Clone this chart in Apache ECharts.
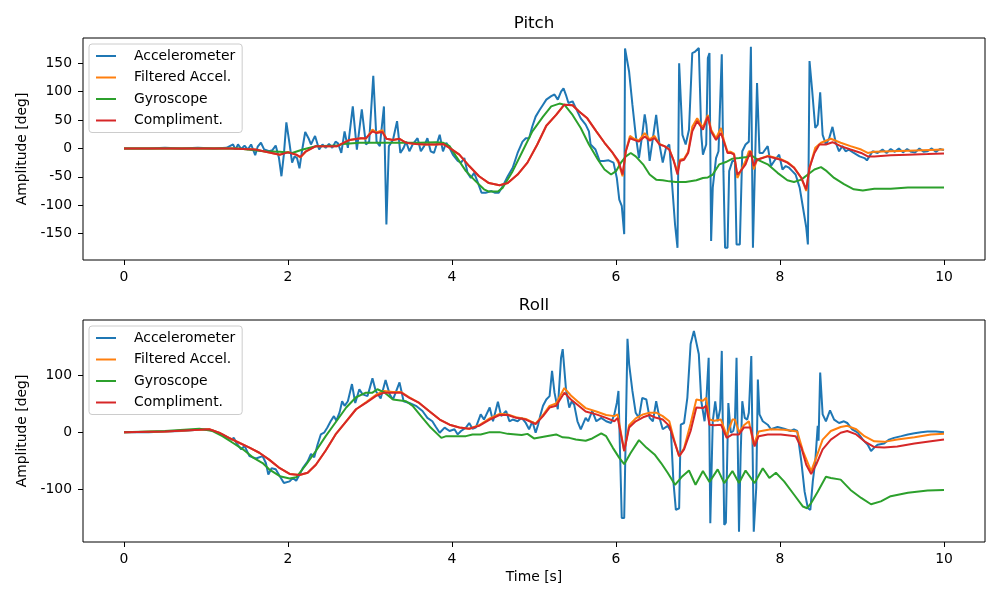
<!DOCTYPE html>
<html><head><meta charset="utf-8">
<script src="https://cdn.jsdelivr.net/npm/echarts@6/dist/echarts.min.js"></script>
<style>html,body{margin:0;padding:0;background:#fff}#c{width:1000px;height:600px}</style>
</head><body><div id="c"></div>
<script>
const seriesNames = ['Accelerometer', 'Filtered Accel.', 'Gyroscope', 'Compliment.'];
const titles = ['Pitch', 'Roll'];
const xTicks = [0, 2, 4, 6, 8, 10];
const pitchTicks = [-150, -100, -50, 0, 50, 100, 150];
const rollTicks = [-100, 0, 100];

// ---------- Pitch ----------
const pitchAccT = [0,0.3,0.5,0.7,0.9,1.1,1.25,1.33,1.36,1.39,1.43,1.47,1.51,1.55,1.60,1.63,1.67,1.71,1.77,1.81,1.85,1.89,1.92,1.95,1.98,2.02,2.05,2.08,2.11,2.14,2.17,2.21,2.25,2.28,2.33,2.38,2.42,2.46,2.50,2.54,2.58,2.61,2.65,2.69,2.73,2.79,2.84,2.90,2.95,2.99,3.04,3.08,3.12,3.17,3.20,3.23,3.28,3.33,3.37,3.41,3.44,3.48,3.52,3.58,3.62,3.66,3.70,3.74,3.78,3.85,3.89,3.93,3.97,4.01,4.07,4.11,4.15,4.19,4.23,4.27,4.31,4.36,4.41,4.48,4.52,4.57,4.62,4.68,4.74,4.80,4.86,4.90,4.94,4.98,5.02,5.07,5.11,5.15,5.21,5.25,5.29,5.33,5.36,5.39,5.42,5.47,5.51,5.57,5.63,5.67,5.69,5.75,5.80,5.85,5.91,5.97,6.01,6.04,6.07,6.10,6.11,6.16,6.20,6.24,6.28,6.32,6.35,6.37,6.41,6.45,6.49,6.53,6.57,6.61,6.65,6.69,6.72,6.75,6.77,6.81,6.85,6.89,6.93,6.96,7.01,7.04,7.06,7.10,7.12,7.14,7.16,7.18,7.22,7.25,7.29,7.31,7.33,7.36,7.38,7.42,7.45,7.47,7.51,7.54,7.58,7.62,7.645,7.67,7.69,7.72,7.75,7.79,7.85,7.89,7.93,7.99,8.03,8.07,8.11,8.15,8.19,8.24,8.28,8.32,8.34,8.36,8.39,8.43,8.46,8.49,8.52,8.56,8.60,8.64,8.68,8.72,8.76,8.80,8.84,8.90,8.97,9.03,9.06,9.09,9.13,9.19,9.25,9.30,9.35,9.40,9.45,9.50,9.55,9.60,9.65,9.70,9.75,9.80,9.85,9.90,9.95,10.0];
const pitchAccV = [0,0,1,0,1,0,1,7,-2,7,-1,5,-2,7,-12,3,10,-2,-5,-3,5,-17,-49,-10,46,7,-25,-14,-17,-35,-5,29,18,7,22,-2,7,1,8,1,12,9,-8,30,1,74,-2,69,7,12,128,12,4,74,-134,4,15,48,-8,1,12,-5,7,18,-5,4,18,-5,-8,24,-5,10,1,-11,-22,-25,-17,-43,-52,-43,-58,-78,-78,-75,-78,-78,-66,-49,-34,-8,12,18,18,39,56,68,77,86,92,95,86,100,106,94,80,83,71,53,42,30,7,-2,-22,-22,-21,-25,-52,-90,-101,-151,176,135,77,24,-17,24,60,42,-22,18,59,7,-25,1,7,-75,-134,-175,150,24,7,33,168,170,177,24,-11,7,159,168,-163,-69,-17,-5,166,-40,-175,-175,-40,-22,-22,-169,-169,-5,7,12,179,-175,-175,115,-8,-8,4,-31,-22,-11,-37,-31,-34,-40,-46,-69,-104,-139,-169,154,106,36,42,99,24,7,18,38,10,-5,4,-5,-2,-8,-14,-17,-21,-14,-5,-8,-2,-8,-1,-6,0,-7,-1,-6,-7,0,-6,-5,0,-6,-1,-3];

const pitchFiltT = [0,1.3,1.6,1.9,2.0,2.1,2.15,2.22,2.34,2.6,2.75,2.89,2.95,3.03,3.08,3.15,3.2,3.28,3.36,3.44,3.56,3.68,3.80,3.89,3.97,4.09,4.21,4.33,4.45,4.58,4.68,4.80,4.92,5.04,5.15,5.27,5.37,5.47,5.55,5.65,5.76,5.86,5.96,6.03,6.08,6.12,6.17,6.22,6.28,6.35,6.41,6.47,6.53,6.59,6.65,6.70,6.75,6.78,6.83,6.88,6.93,6.99,7.06,7.12,7.16,7.22,7.28,7.32,7.36,7.40,7.44,7.48,7.52,7.58,7.62,7.65,7.68,7.72,7.85,7.93,8.01,8.09,8.17,8.26,8.32,8.36,8.43,8.50,8.62,8.74,8.86,8.99,9.07,9.15,9.56,10];
const pitchFiltV = [0,0,-2,-11,-6,-11,-16,-5,4,4,15,18,17,33,28,32,17,15,17,10,8,7,7,8,1,-11,-31,-49,-61,-65,-61,-46,-25,7,40,59,77,76,65,53,30,10,-8,-25,-49,-5,22,17,14,27,16,22,8,4,-1,-20,-41,-20,-18,-6,38,53,37,59,33,18,36,12,-6,-6,-9,-52,-40,-22,-5,-5,-37,-20,-13,-16,-19,-24,-33,-52,-75,-34,1,10,17,10,4,-2,-8,-6,-4,-2];

const pitchGyroT = [0,1.4,1.7,1.9,2.05,2.18,2.34,2.6,2.67,2.87,3.28,3.6,3.8,3.89,3.97,4.05,4.17,4.29,4.39,4.45,4.56,4.62,4.74,4.86,4.98,5.02,5.11,5.21,5.31,5.37,5.47,5.57,5.67,5.78,5.86,5.94,6.00,6.06,6.12,6.18,6.24,6.33,6.41,6.49,6.57,6.65,6.73,6.85,6.98,7.06,7.12,7.18,7.26,7.34,7.42,7.50,7.60,7.65,7.73,7.85,7.97,8.09,8.17,8.26,8.34,8.42,8.50,8.57,8.66,8.78,8.90,9.01,9.15,9.35,9.56,9.80,10];
const pitchGyroV = [0,0,-5,-6,-8,-2,4,5,8,10,10,10,11,10,4,-14,-40,-58,-72,-76,-76,-69,-40,-5,30,38,56,74,79,77,59,36,7,-20,-37,-46,-40,-25,-14,-8,-14,-28,-46,-55,-56,-58,-59,-59,-56,-52,-51,-46,-28,-24,-18,-17,-15,-12,-20,-28,-43,-56,-59,-55,-46,-37,-33,-40,-52,-63,-72,-74,-71,-71,-69,-69,-69];

const pitchCompT = [0,1.3,1.6,1.9,2.0,2.1,2.15,2.22,2.34,2.6,2.75,2.89,2.95,3.03,3.08,3.15,3.2,3.28,3.36,3.44,3.56,3.68,3.80,3.89,3.97,4.09,4.21,4.33,4.45,4.58,4.68,4.80,4.92,5.04,5.15,5.27,5.37,5.47,5.55,5.65,5.76,5.86,5.96,6.03,6.08,6.12,6.17,6.22,6.28,6.35,6.41,6.47,6.53,6.59,6.65,6.70,6.75,6.78,6.83,6.88,6.93,6.99,7.06,7.12,7.16,7.22,7.28,7.32,7.36,7.40,7.44,7.48,7.52,7.58,7.64,7.68,7.72,7.85,7.93,8.01,8.09,8.17,8.26,8.32,8.36,8.42,8.48,8.56,8.64,8.74,8.86,8.99,9.07,9.15,9.35,9.56,9.80,10];
const pitchCompV = [0,0,-2,-11,-7,-11,-15,-5,4,4,15,18,18,30,27,29,17,15,17,10,8,7,7,8,1,-11,-31,-49,-61,-65,-61,-46,-25,7,40,59,77,76,65,53,30,10,-8,-22,-46,-5,18,15,12,21,14,18,7,4,-2,-20,-46,-22,-20,-8,30,48,33,56,30,15,27,10,-8,-8,-11,-46,-40,-28,-5,-31,-20,-14,-17,-20,-25,-34,-52,-72,-34,-8,7,7,11,4,-2,-8,-14,-14,-12,-11,-10,-9];

// ---------- Roll ----------
const rollAccT = [0,0.3,0.5,0.7,0.9,1.0,1.08,1.2,1.31,1.34,1.37,1.43,1.47,1.53,1.61,1.69,1.73,1.76,1.80,1.85,1.90,1.95,2.02,2.06,2.10,2.13,2.18,2.24,2.28,2.32,2.36,2.40,2.44,2.48,2.52,2.56,2.59,2.63,2.66,2.69,2.73,2.78,2.82,2.87,2.91,2.97,3.03,3.07,3.13,3.19,3.24,3.28,3.36,3.41,3.48,3.56,3.64,3.70,3.76,3.80,3.85,3.91,3.97,4.03,4.07,4.11,4.17,4.21,4.25,4.29,4.35,4.39,4.46,4.50,4.56,4.60,4.66,4.70,4.74,4.80,4.85,4.90,4.94,4.98,5.02,5.05,5.08,5.11,5.15,5.19,5.22,5.25,5.29,5.33,5.35,5.39,5.43,5.46,5.49,5.53,5.57,5.63,5.66,5.71,5.76,5.82,5.88,5.94,5.98,6.01,6.03,6.05,6.07,6.10,6.14,6.16,6.20,6.24,6.28,6.32,6.37,6.41,6.45,6.49,6.53,6.57,6.63,6.67,6.70,6.73,6.77,6.79,6.83,6.87,6.91,6.95,6.97,7.01,7.04,7.08,7.10,7.13,7.15,7.18,7.21,7.24,7.27,7.29,7.32,7.34,7.37,7.40,7.43,7.45,7.47,7.50,7.52,7.54,7.57,7.60,7.62,7.65,7.68,7.71,7.73,7.75,7.79,7.85,7.89,7.97,8.05,8.13,8.17,8.21,8.26,8.30,8.34,8.37,8.40,8.43,8.46,8.47,8.49,8.52,8.56,8.61,8.66,8.72,8.78,8.82,8.88,8.95,9.01,9.07,9.11,9.15,9.19,9.27,9.33,9.39,9.48,9.56,9.64,9.72,9.80,9.90,10];
const rollAccV = [0,0,1,2,4,5,3,-4,-13,-10,-19,-30,-24,-42,-46,-42,-54,-74,-63,-65,-77,-89,-86,-80,-85,-77,-63,-51,-38,-44,-22,-4,-1,8,19,28,20,35,54,46,54,84,51,75,66,63,94,72,59,91,66,57,87,54,51,46,37,25,19,10,-1,8,2,5,-4,2,8,16,6,8,31,22,43,19,53,28,37,19,22,19,25,16,5,19,-1,13,31,46,57,63,107,69,40,130,145,75,43,54,48,19,5,25,19,37,19,25,19,16,31,51,72,-39,-150,-150,163,119,72,34,25,60,57,25,19,54,25,5,11,2,-86,-136,-133,13,16,60,154,177,177,136,54,19,51,130,-159,19,54,19,40,142,-162,-158,51,-1,2,16,130,-174,-39,54,25,22,34,133,-174,-98,92,31,19,13,5,9,6,2,5,2,-51,-104,-133,-136,-86,-51,11,-15,104,31,19,38,22,16,19,16,5,-1,-13,-22,-33,-27,-22,-20,-13,-10,-7,-4,-2,0,1,1,0];

const rollFiltT = [0,0.5,0.92,1.04,1.16,1.28,1.41,1.53,1.65,1.77,1.9,2.02,2.14,2.24,2.34,2.46,2.58,2.71,2.83,2.95,3.07,3.17,3.28,3.38,3.48,3.60,3.72,3.85,3.97,4.09,4.21,4.33,4.46,4.58,4.68,4.78,4.90,5.02,5.11,5.19,5.27,5.37,5.45,5.53,5.63,5.76,5.88,5.98,6.02,6.10,6.16,6.24,6.33,6.41,6.49,6.57,6.65,6.71,6.77,6.83,6.91,6.98,7.06,7.10,7.14,7.20,7.28,7.35,7.42,7.45,7.50,7.56,7.62,7.68,7.74,7.89,8.05,8.21,8.28,8.38,8.44,8.52,8.62,8.74,8.82,8.93,9.03,9.15,9.27,9.43,9.64,9.84,10];
const rollFiltV = [0,1,4,5,-1,-10,-19,-27,-36,-48,-63,-73,-75,-71,-57,-32,-4,19,40,52,65,72,70,70,61,51,37,22,13,8,6,12,24,32,31,26,23,15,30,46,50,77,64,54,42,36,30,28,31,-33,12,24,31,34,34,28,19,-14,-42,-28,15,57,55,60,22,20,22,-6,22,22,0,12,19,-22,1,5,4,1,-33,-68,-45,-13,2,9,11,5,-7,-16,-17,-13,-9,-4,-3];

const rollGyroT = [0,0.5,0.92,1.08,1.2,1.33,1.45,1.57,1.69,1.77,1.9,2.02,2.10,2.22,2.34,2.46,2.59,2.71,2.83,2.95,3.03,3.09,3.18,3.28,3.44,3.52,3.64,3.74,3.87,3.93,4.01,4.17,4.25,4.35,4.46,4.58,4.68,4.78,4.85,4.92,5.00,5.15,5.27,5.35,5.43,5.51,5.63,5.71,5.82,5.88,5.96,6.04,6.10,6.18,6.28,6.37,6.47,6.55,6.63,6.72,6.81,6.89,6.97,7.06,7.14,7.24,7.32,7.42,7.50,7.58,7.69,7.79,7.87,7.95,8.05,8.17,8.28,8.33,8.38,8.46,8.56,8.62,8.74,8.86,8.99,9.11,9.23,9.35,9.56,9.80,10];
const rollGyroV = [0,2,6,2,-7,-19,-30,-44,-54,-65,-77,-81,-79,-57,-33,-7,19,43,61,69,69,75,69,57,54,46,25,8,-10,-7,-7,-7,-4,-4,0,0,-3,-4,-5,-3,-11,-7,-4,-9,-10,-13,-15,-11,-2,-7,-27,-45,-56,-36,-14,-27,-39,-54,-71,-92,-77,-67,-92,-68,-87,-65,-89,-68,-89,-67,-89,-63,-80,-71,-86,-109,-130,-133,-124,-104,-78,-80,-83,-101,-115,-126,-121,-112,-106,-102,-101];

const rollCompT = [0,0.5,0.92,1.04,1.16,1.28,1.41,1.53,1.65,1.77,1.9,2.02,2.14,2.24,2.34,2.46,2.58,2.71,2.83,2.95,3.07,3.17,3.28,3.38,3.48,3.60,3.72,3.85,3.97,4.09,4.21,4.33,4.46,4.58,4.68,4.78,4.90,5.02,5.11,5.19,5.27,5.37,5.45,5.53,5.63,5.76,5.88,5.98,6.02,6.10,6.16,6.24,6.33,6.41,6.49,6.57,6.65,6.71,6.77,6.83,6.91,6.98,7.06,7.10,7.14,7.20,7.28,7.35,7.42,7.50,7.56,7.64,7.69,7.74,7.85,8.01,8.19,8.26,8.32,8.38,8.44,8.52,8.62,8.74,8.82,8.93,9.03,9.15,9.27,9.43,9.64,9.84,10];
const rollCompV = [0,1,4,5,-1,-10,-19,-27,-36,-48,-63,-73,-75,-71,-57,-32,-4,19,40,51,63,69,69,69,60,51,37,22,13,8,6,11,22,30,30,25,22,14,28,43,46,69,57,48,36,31,25,19,25,-33,8,19,26,30,25,22,11,-16,-42,-30,2,43,42,46,13,12,13,-10,-4,-4,8,8,-25,-7,-4,-4,-7,-27,-57,-73,-57,-30,-13,-1,2,-4,-16,-26,-27,-25,-20,-16,-13];

const colors = ['#1f77b4', '#ff7f0e', '#2ca02c', '#d62728'];

function pairs(t, v) { return t.map((x, i) => [x, v[i]]); }

const panels = [
  { t: [pitchAccT, pitchFiltT, pitchGyroT, pitchCompT], v: [pitchAccV, pitchFiltV, pitchGyroV, pitchCompV], ticks: pitchTicks, min: -196.5, max: 194.5 },
  { t: [rollAccT, rollFiltT, rollGyroT, rollCompT], v: [rollAccV, rollFiltV, rollGyroV, rollCompV], ticks: rollTicks, min: -192, max: 196 }
];
const gridTops = [38, 320];
const font = 'DejaVu Sans';

const option = {
  animation: false,
  backgroundColor: '#fff',
  title: titles.map((tt, i) => ({
    text: tt, left: 534, top: gridTops[i] - 23, textAlign: 'center', padding: 0,
    textStyle: { fontFamily: font, fontSize: 16.7, fontWeight: 'normal', color: '#000' }
  })),
  legend: gridTops.map((gt) => ({
    data: seriesNames, orient: 'vertical', left: 89, top: gt + 6,
    icon: 'rect', itemWidth: 20, itemHeight: 2, itemGap: 5.5,
    padding: [4, 7, 4, 7],
    backgroundColor: 'rgba(255,255,255,0.8)', borderColor: '#cccccc', borderWidth: 1, borderRadius: 3,
    formatter: '{n|{name}}',
    textStyle: { fontFamily: font, fontSize: 13.9, color: '#000', lineHeight: 16,
      rich: { n: { fontFamily: font, fontSize: 13.9, color: '#000', lineHeight: 16, padding: [0, 0, 0, 13] } } }
  })),
  grid: gridTops.map((gt) => ({ left: 83, top: gt, width: 902, height: 222, show: true, borderColor: '#000', borderWidth: 1, backgroundColor: 'transparent' })),
  xAxis: gridTops.map((gt, i) => ({
    type: 'value', gridIndex: i, min: -0.5, max: 10.5,
    name: i === 1 ? 'Time [s]' : '', nameLocation: 'middle', nameGap: 28,
    nameTextStyle: { fontFamily: font, fontSize: 13.9, color: '#000' },
    axisLine: { show: false, onZero: false },
    axisTick: { show: true, length: 5, lineStyle: { color: '#000', width: 1 }, customValues: xTicks },
    axisLabel: { fontFamily: font, fontSize: 13.9, color: '#000', margin: 10, customValues: xTicks },
    splitLine: { show: false }
  })),
  yAxis: panels.map((p, i) => ({
    type: 'value', gridIndex: i, min: p.min, max: p.max,
    name: 'Amplitude [deg]', nameLocation: 'middle', nameGap: 54,
    nameTextStyle: { fontFamily: font, fontSize: 13.9, color: '#000' },
    axisLine: { show: false, onZero: false },
    axisTick: { show: true, length: 5, lineStyle: { color: '#000', width: 1 }, customValues: p.ticks },
    axisLabel: { fontFamily: font, fontSize: 13.9, color: '#000', margin: 11, customValues: p.ticks },
    splitLine: { show: false }
  })),
  series: []
};

panels.forEach((p, gi) => {
  seriesNames.forEach((nm, si) => {
    option.series.push({
      name: nm, type: 'line', xAxisIndex: gi, yAxisIndex: gi,
      data: pairs(p.t[si], p.v[si]), showSymbol: false, symbol: 'none',
      lineStyle: { color: colors[si], width: 2 }, itemStyle: { color: colors[si] },
      z: 2 + si, clip: true
    });
  });
});

const chart = echarts.init(document.getElementById('c'), null, { renderer: 'canvas' });
chart.setOption(option);
</script>
</body></html>
